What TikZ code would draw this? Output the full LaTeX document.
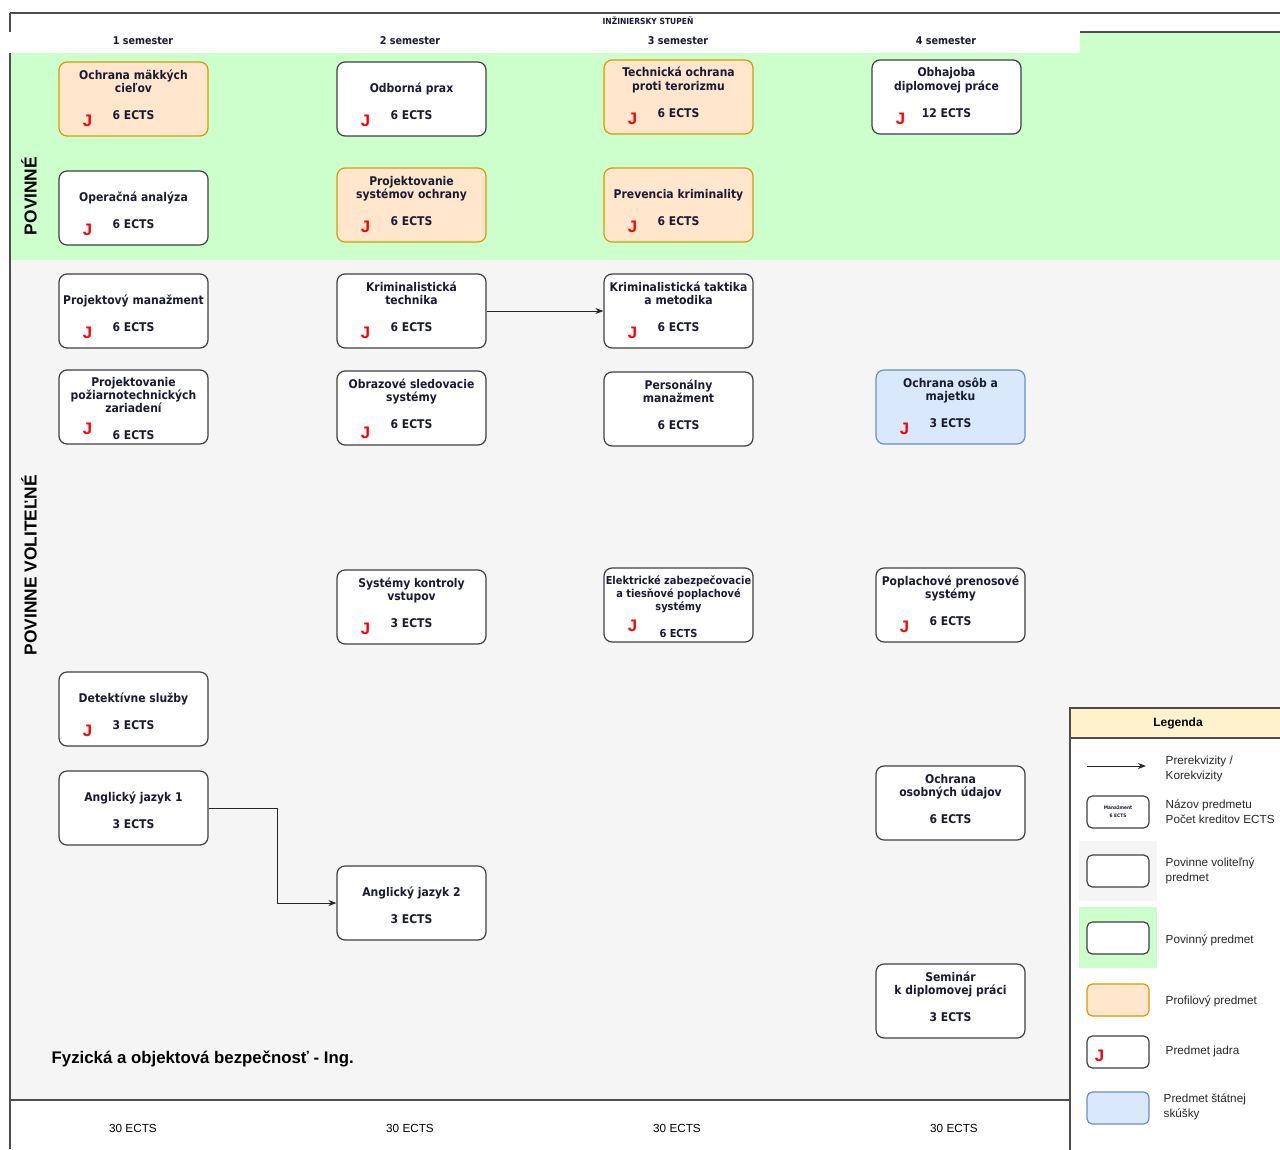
\documentclass[tikz,border=0pt]{standalone}
\usepackage{fontspec}
\setmainfont{Liberation Sans}
\newfontfamily\tahoma[FakeStretch=0.9]{DejaVu Sans}
\usepackage{tikz}
\usetikzlibrary{arrows.meta}
\definecolor{povinne}{HTML}{CCFFCC}
\definecolor{volitelne}{HTML}{F5F5F5}
\definecolor{profil}{HTML}{FFE6CC}
\definecolor{profilline}{HTML}{D79B00}
\definecolor{statna}{HTML}{DAE8FC}
\definecolor{statnaline}{HTML}{6C8EBF}
\definecolor{legendhead}{HTML}{FFF2CC}
\definecolor{ramec}{HTML}{4D4D4D}
\definecolor{pismo}{HTML}{1A1A33}

\begin{document}
\begin{tikzpicture}[x=0.75pt,y=-0.75pt,
        predmet/.style={draw=black!75,fill=white,rounded corners=6pt,line width=0.9pt,
            minimum width=111.75pt,minimum height=55.5pt,inner sep=1pt,align=center,
            text=pismo,font=\tahoma\bfseries\fontsize{9}{9.75}\selectfont,
            text height=30pt,text depth=0pt},
        tri/.style={text height=48pt},
        profilovy/.style={predmet,fill=profil,draw=profilline},
        statny/.style={predmet,fill=statna,draw=statnaline},
        jadro/.style={text=red,inner sep=0pt,font=\bfseries\fontsize{12.5}{12.5}\selectfont},
        semester/.style={text=pismo,font=\tahoma\bfseries\fontsize{8}{9}\selectfont},
        legbox/.style={predmet,minimum width=46.5pt,minimum height=24pt,rounded corners=4pt,
            text height=,text depth=},
        legtext/.style={anchor=west,align=left,text=black!85,font=\fontsize{8.8}{11.25}\selectfont},
        prerek/.style={-{Stealth[length=6pt,width=4.5pt]},line width=0.7pt,draw=black!85},
        ramecline/.style={draw=ramec,line width=1.2pt}]
    \path[fill=white,use as bounding box] (0,0) rectangle (1280,1149);

    % pasy
    \fill[povinne] (10,32) rectangle (1280,260);
    \fill[white] (10,13) rectangle (1080,53);
    \fill[volitelne] (10,260) rectangle (1280,1100);
    \draw[ramecline] (10,13) -- (1280,13);
    \draw[ramecline] (10,13) -- (10,32);
    \draw[ramecline] (1080,32) -- (1280,32);
    \draw[ramecline] (10,53) -- (10,1149);
    \draw[ramecline] (10,1100) -- (1070,1100);

    \node[semester,font=\tahoma\bfseries\fontsize{6.3}{7}\selectfont] (stupen) at (648,21) {INŽINIERSKY STUPEŇ};
    \node[semester] (sem1) at (143,41) {1 semester};
    \node[semester] (sem2) at (410,41) {2 semester};
    \node[semester] (sem3) at (678,41) {3 semester};
    \node[semester] (sem4) at (946,41) {4 semester};

    \node[rotate=90,font=\bfseries\fontsize{13}{13}\selectfont] (povinneL) at (29,196) {POVINNÉ};
    \node[rotate=90,font=\bfseries\fontsize{13}{13}\selectfont] (volitelneL) at (29,565) {POVINNE VOLITEĽNÉ};

    % povinne predmety
    \node[profilovy] (makke) at (133.5,99) {Ochrana mäkkých\\cieľov\\[10.5pt]6 ECTS};
    \node[jadro] (makkeJ) at ([shift={(29,-16)}]makke.south west) {J};
    \node[predmet] (prax) at (411.5,99) {Odborná prax\\[10.5pt]6 ECTS};
    \node[jadro] (praxJ) at ([shift={(29,-16)}]prax.south west) {J};
    \node[profilovy] (teror) at (678.5,97) {Technická ochrana\\proti terorizmu\\[10.5pt]6 ECTS};
    \node[jadro] (terorJ) at ([shift={(29,-16)}]teror.south west) {J};
    \node[predmet] (obhajoba) at (946.5,97) {Obhajoba\\diplomovej práce\\[10.5pt]12 ECTS};
    \node[jadro] (obhajobaJ) at ([shift={(29,-16)}]obhajoba.south west) {J};
    \node[predmet] (operacna) at (133.5,208) {Operačná analýza\\[10.5pt]6 ECTS};
    \node[jadro] (operacnaJ) at ([shift={(29,-16)}]operacna.south west) {J};
    \node[profilovy] (pso) at (411.5,205) {Projektovanie\\systémov ochrany\\[10.5pt]6 ECTS};
    \node[jadro] (psoJ) at ([shift={(29,-16)}]pso.south west) {J};
    \node[profilovy] (prevencia) at (678.5,205) {Prevencia kriminality\\[10.5pt]6 ECTS};
    \node[jadro] (prevenciaJ) at ([shift={(29,-16)}]prevencia.south west) {J};

    % povinne volitelne predmety
    \node[predmet] (projman) at (133.5,311) {Projektový manažment\\[10.5pt]6 ECTS};
    \node[jadro] (projmanJ) at ([shift={(29,-16)}]projman.south west) {J};
    \node[predmet] (krimtech) at (411.5,311) {Kriminalistická\\technika\\[10.5pt]6 ECTS};
    \node[jadro] (krimtechJ) at ([shift={(29,-16)}]krimtech.south west) {J};
    \node[predmet] (krimtak) at (678.5,311) {Kriminalistická taktika\\a metodika\\[10.5pt]6 ECTS};
    \node[jadro] (krimtakJ) at ([shift={(29,-16)}]krimtak.south west) {J};
    \node[predmet,tri] (poziar) at (133.5,407) {Projektovanie\\požiarnotechnických\\zariadení\\[10.5pt]6 ECTS};
    \node[jadro] (poziarJ) at ([shift={(29,-16)}]poziar.south west) {J};
    \node[predmet] (obrazove) at (411.5,408) {Obrazové sledovacie\\systémy\\[10.5pt]6 ECTS};
    \node[jadro] (obrazoveJ) at ([shift={(29,-13)}]obrazove.south west) {J};
    \node[predmet] (persman) at (678.5,409) {Personálny\\manažment\\[10.5pt]6 ECTS};
    \node[statny] (osoby) at (950.5,407) {Ochrana osôb a\\majetku\\[10.5pt]3 ECTS};
    \node[jadro] (osobyJ) at ([shift={(29,-16)}]osoby.south west) {J};
    \node[predmet] (kontrola) at (411.5,607) {Systémy kontroly\\vstupov\\[10.5pt]3 ECTS};
    \node[jadro] (kontrolaJ) at ([shift={(29,-16)}]kontrola.south west) {J};
    \node[predmet,tri,font=\tahoma\bfseries\fontsize{8.2}{9.75}\selectfont] (elektricke) at (678.5,605) {Elektrické zabezpečovacie\\a tiesňové poplachové\\systémy\\[10pt]6 ECTS};
    \node[jadro] (elektrickeJ) at ([shift={(29,-17)}]elektricke.south west) {J};
    \node[predmet] (poplachove) at (950.5,605) {Poplachové prenosové\\systémy\\[10.5pt]6 ECTS};
    \node[jadro] (poplachoveJ) at ([shift={(29,-16)}]poplachove.south west) {J};
    \node[predmet] (detektivne) at (133.5,709) {Detektívne služby\\[10.5pt]3 ECTS};
    \node[jadro] (detektivneJ) at ([shift={(29,-16)}]detektivne.south west) {J};
    \node[predmet] (aj1) at (133.5,808) {Anglický jazyk 1\\[10.5pt]3 ECTS};
    \node[predmet] (aj2) at (411.5,903) {Anglický jazyk 2\\[10.5pt]3 ECTS};
    \node[predmet] (udaje) at (950.5,803) {Ochrana\\osobných údajov\\[10.5pt]6 ECTS};
    \node[predmet] (seminar) at (950.5,1001) {Seminár\\k diplomovej práci\\[10.5pt]3 ECTS};

    \draw[prerek] (krimtech) -- (krimtak);
    \draw[prerek] (aj1.east) -- ++(69,0) |- (aj2.west);

    \node[anchor=west,font=\bfseries\fontsize{12.6}{13}\selectfont] (nazov) at (47,1059) {Fyzická a objektová bezpečnosť - Ing.};

    \node[font=\fontsize{8.8}{10}\selectfont] (ects1) at (133,1128) {30 ECTS};
    \node[font=\fontsize{8.8}{10}\selectfont] (ects2) at (410,1128) {30 ECTS};
    \node[font=\fontsize{8.8}{10}\selectfont] (ects3) at (677,1128) {30 ECTS};
    \node[font=\fontsize{8.8}{10}\selectfont] (ects4) at (954,1128) {30 ECTS};

    % legenda
    \draw[ramecline,fill=white] (1070,708) rectangle (1300,1160);
    \draw[ramecline,fill=legendhead] (1070,708) rectangle (1300,738);
    \node[font=\bfseries\fontsize{9}{10}\selectfont] (legenda) at (1178,723) {Legenda};
    \coordinate (legA) at (1087,766);
    \coordinate (legB) at (1146,766);
    \draw[prerek] (legA) -- (legB);
    \node[legtext] (legPrerek) at (1161,768.5) {Prerekvizity /\\Korekvizity};
    \node[legbox,font=\tahoma\bfseries\fontsize{3.6}{6}\selectfont] (legPredmet) at (1118,812) {Manažment\\6 ECTS};
    \node[legtext] (legNazov) at (1161,811.5) {Názov predmetu\\Počet kreditov ECTS};
    \fill[volitelne] (1079,841) rectangle (1157,901);
    \node[legbox] (legVol) at (1118,871) {};
    \node[legtext] (legVolT) at (1161,870.5) {Povinne voliteľný\\predmet};
    \fill[povinne] (1079,907) rectangle (1157,968);
    \node[legbox] (legPov) at (1118,938) {};
    \node[legtext] (legPovT) at (1161,940) {Povinný predmet};
    \node[legbox,fill=profil,draw=profilline] (legProf) at (1118,1000) {};
    \node[legtext] (legProfT) at (1161,1001) {Profilový predmet};
    \node[legbox] (legJadro) at (1118,1052) {};
    \node[jadro] (legJadroJ) at ([shift={(13,-13)}]legJadro.south west) {J};
    \node[legtext] (legJadroT) at (1161,1051) {Predmet jadra};
    \node[legbox,fill=statna,draw=statnaline] (legStat) at (1118,1108) {};
    \node[legtext] (legStatT) at (1159,1106.5) {Predmet štátnej\\skúšky};
\end{tikzpicture}
\end{document}
